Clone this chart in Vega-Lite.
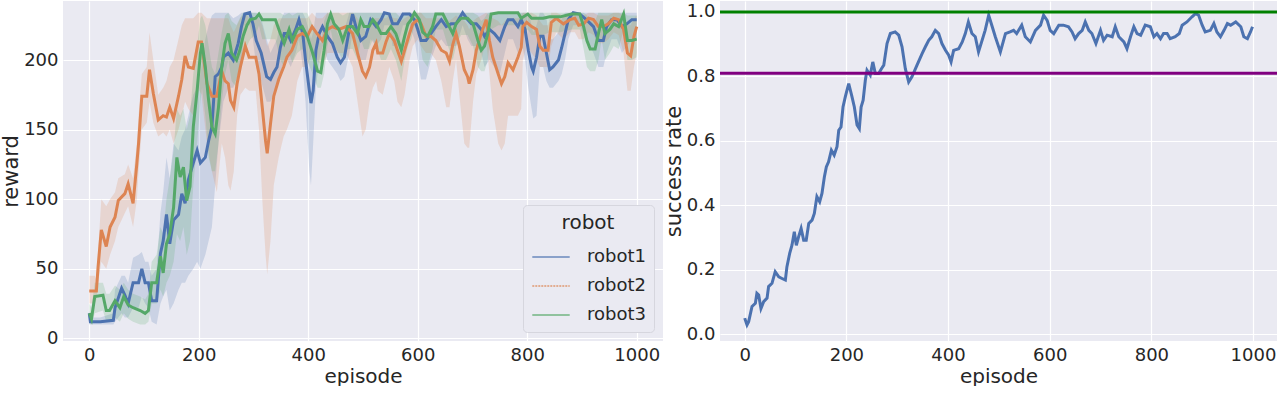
{
"$schema": "https://vega.github.io/schema/vega-lite/v6.json",
"padding": {"left": 0, "top": 1, "right": 5, "bottom": 0},
"spacing": 0,
"background": "white",
"resolve": {"scale": {"color": "independent"}, "legend": {"color": "independent"}},
"config": {
  "font": "DejaVu Sans",
  "view": {"fill": "#EAEAF2", "stroke": null},
  "axis": {"grid": true, "gridColor": "#FFFFFF", "gridWidth": 1.2, "domain": false, "ticks": false, "labelFontSize": 18, "titleFontSize": 20, "labelColor": "#262626", "titleColor": "#262626", "titleFontWeight": "normal", "labelPadding": 5, "titlePadding": 2, "labelFont": "DejaVu Sans", "titleFont": "DejaVu Sans"},
  "legend": {"labelFont": "DejaVu Sans", "titleFont": "DejaVu Sans"}
},
"datasets": {
"reward": [
{"robot":"robot1","ep":0,"r":18,"lo":10,"hi":20},
{"robot":"robot1","ep":2,"r":12,"lo":10,"hi":15},
{"robot":"robot1","ep":20,"r":12,"lo":10,"hi":15},
{"robot":"robot1","ep":44,"r":13,"lo":10,"hi":18},
{"robot":"robot1","ep":47,"r":22,"lo":12,"hi":35},
{"robot":"robot1","ep":59,"r":36,"lo":18,"hi":45},
{"robot":"robot1","ep":65,"r":31,"lo":15,"hi":45},
{"robot":"robot1","ep":71,"r":25,"lo":15,"hi":40},
{"robot":"robot1","ep":80,"r":40,"lo":22,"hi":58},
{"robot":"robot1","ep":90,"r":40,"lo":22,"hi":60},
{"robot":"robot1","ep":96,"r":50,"lo":30,"hi":62},
{"robot":"robot1","ep":102,"r":40,"lo":25,"hi":55},
{"robot":"robot1","ep":108,"r":40,"lo":22,"hi":55},
{"robot":"robot1","ep":114,"r":27,"lo":12,"hi":45},
{"robot":"robot1","ep":123,"r":27,"lo":10,"hi":50},
{"robot":"robot1","ep":130,"r":61,"lo":25,"hi":90},
{"robot":"robot1","ep":135,"r":70,"lo":30,"hi":105},
{"robot":"robot1","ep":141,"r":89,"lo":35,"hi":130},
{"robot":"robot1","ep":147,"r":68,"lo":20,"hi":115},
{"robot":"robot1","ep":154,"r":85,"lo":25,"hi":140},
{"robot":"robot1","ep":163,"r":89,"lo":35,"hi":135},
{"robot":"robot1","ep":169,"r":104,"lo":40,"hi":145},
{"robot":"robot1","ep":175,"r":97,"lo":40,"hi":150},
{"robot":"robot1","ep":181,"r":114,"lo":45,"hi":160},
{"robot":"robot1","ep":190,"r":126,"lo":50,"hi":175},
{"robot":"robot1","ep":197,"r":135,"lo":55,"hi":180},
{"robot":"robot1","ep":203,"r":126,"lo":50,"hi":190},
{"robot":"robot1","ep":212,"r":130,"lo":60,"hi":215},
{"robot":"robot1","ep":218,"r":142,"lo":70,"hi":225},
{"robot":"robot1","ep":224,"r":152,"lo":80,"hi":232},
{"robot":"robot1","ep":230,"r":188,"lo":110,"hi":234},
{"robot":"robot1","ep":236,"r":190,"lo":140,"hi":234},
{"robot":"robot1","ep":242,"r":195,"lo":160,"hi":234},
{"robot":"robot1","ep":245,"r":202,"lo":170,"hi":234},
{"robot":"robot1","ep":254,"r":205,"lo":180,"hi":234},
{"robot":"robot1","ep":263,"r":200,"lo":180,"hi":230},
{"robot":"robot1","ep":272,"r":212,"lo":190,"hi":232},
{"robot":"robot1","ep":278,"r":224,"lo":200,"hi":234},
{"robot":"robot1","ep":284,"r":233,"lo":225,"hi":234},
{"robot":"robot1","ep":293,"r":234,"lo":225,"hi":234},
{"robot":"robot1","ep":299,"r":226,"lo":215,"hi":234},
{"robot":"robot1","ep":305,"r":214,"lo":195,"hi":234},
{"robot":"robot1","ep":314,"r":205,"lo":185,"hi":230},
{"robot":"robot1","ep":324,"r":188,"lo":170,"hi":215},
{"robot":"robot1","ep":331,"r":186,"lo":170,"hi":205},
{"robot":"robot1","ep":337,"r":191,"lo":175,"hi":210},
{"robot":"robot1","ep":343,"r":195,"lo":180,"hi":215},
{"robot":"robot1","ep":349,"r":209,"lo":190,"hi":228},
{"robot":"robot1","ep":356,"r":219,"lo":200,"hi":234},
{"robot":"robot1","ep":362,"r":219,"lo":200,"hi":234},
{"robot":"robot1","ep":368,"r":214,"lo":195,"hi":234},
{"robot":"robot1","ep":377,"r":222,"lo":205,"hi":234},
{"robot":"robot1","ep":383,"r":229,"lo":215,"hi":234},
{"robot":"robot1","ep":390,"r":219,"lo":195,"hi":234},
{"robot":"robot1","ep":395,"r":200,"lo":170,"hi":230},
{"robot":"robot1","ep":402,"r":178,"lo":120,"hi":220},
{"robot":"robot1","ep":405,"r":169,"lo":110,"hi":215},
{"robot":"robot1","ep":409,"r":178,"lo":140,"hi":220},
{"robot":"robot1","ep":414,"r":207,"lo":180,"hi":234},
{"robot":"robot1","ep":420,"r":219,"lo":200,"hi":234},
{"robot":"robot1","ep":426,"r":224,"lo":210,"hi":234},
{"robot":"robot1","ep":435,"r":217,"lo":200,"hi":234},
{"robot":"robot1","ep":444,"r":212,"lo":195,"hi":230},
{"robot":"robot1","ep":453,"r":202,"lo":190,"hi":220},
{"robot":"robot1","ep":459,"r":198,"lo":185,"hi":215},
{"robot":"robot1","ep":466,"r":202,"lo":188,"hi":222},
{"robot":"robot1","ep":475,"r":222,"lo":205,"hi":234},
{"robot":"robot1","ep":481,"r":233,"lo":220,"hi":234},
{"robot":"robot1","ep":487,"r":224,"lo":210,"hi":234},
{"robot":"robot1","ep":496,"r":214,"lo":200,"hi":234},
{"robot":"robot1","ep":505,"r":217,"lo":200,"hi":234},
{"robot":"robot1","ep":514,"r":229,"lo":215,"hi":234},
{"robot":"robot1","ep":524,"r":224,"lo":210,"hi":234},
{"robot":"robot1","ep":533,"r":229,"lo":215,"hi":234},
{"robot":"robot1","ep":539,"r":234,"lo":225,"hi":234},
{"robot":"robot1","ep":548,"r":233,"lo":225,"hi":234},
{"robot":"robot1","ep":554,"r":226,"lo":210,"hi":234},
{"robot":"robot1","ep":563,"r":226,"lo":210,"hi":234},
{"robot":"robot1","ep":573,"r":233,"lo":225,"hi":234},
{"robot":"robot1","ep":585,"r":233,"lo":225,"hi":234},
{"robot":"robot1","ep":594,"r":229,"lo":215,"hi":234},
{"robot":"robot1","ep":600,"r":222,"lo":200,"hi":234},
{"robot":"robot1","ep":606,"r":214,"lo":186,"hi":234},
{"robot":"robot1","ep":615,"r":214,"lo":186,"hi":234},
{"robot":"robot1","ep":624,"r":219,"lo":200,"hi":234},
{"robot":"robot1","ep":633,"r":224,"lo":210,"hi":234},
{"robot":"robot1","ep":643,"r":229,"lo":215,"hi":234},
{"robot":"robot1","ep":652,"r":224,"lo":210,"hi":234},
{"robot":"robot1","ep":661,"r":226,"lo":210,"hi":234},
{"robot":"robot1","ep":670,"r":226,"lo":210,"hi":234},
{"robot":"robot1","ep":682,"r":234,"lo":225,"hi":234},
{"robot":"robot1","ep":691,"r":229,"lo":215,"hi":234},
{"robot":"robot1","ep":698,"r":226,"lo":210,"hi":234},
{"robot":"robot1","ep":707,"r":226,"lo":210,"hi":234},
{"robot":"robot1","ep":716,"r":222,"lo":205,"hi":234},
{"robot":"robot1","ep":722,"r":217,"lo":195,"hi":234},
{"robot":"robot1","ep":731,"r":222,"lo":200,"hi":234},
{"robot":"robot1","ep":740,"r":219,"lo":195,"hi":234},
{"robot":"robot1","ep":750,"r":214,"lo":190,"hi":234},
{"robot":"robot1","ep":759,"r":224,"lo":205,"hi":234},
{"robot":"robot1","ep":765,"r":229,"lo":215,"hi":234},
{"robot":"robot1","ep":774,"r":229,"lo":215,"hi":234},
{"robot":"robot1","ep":783,"r":224,"lo":205,"hi":234},
{"robot":"robot1","ep":789,"r":229,"lo":215,"hi":234},
{"robot":"robot1","ep":796,"r":222,"lo":200,"hi":234},
{"robot":"robot1","ep":802,"r":207,"lo":180,"hi":234},
{"robot":"robot1","ep":808,"r":195,"lo":165,"hi":225},
{"robot":"robot1","ep":811,"r":192,"lo":158,"hi":220},
{"robot":"robot1","ep":817,"r":202,"lo":160,"hi":225},
{"robot":"robot1","ep":823,"r":217,"lo":195,"hi":234},
{"robot":"robot1","ep":829,"r":217,"lo":195,"hi":234},
{"robot":"robot1","ep":835,"r":205,"lo":185,"hi":230},
{"robot":"robot1","ep":841,"r":193,"lo":180,"hi":215},
{"robot":"robot1","ep":847,"r":195,"lo":180,"hi":215},
{"robot":"robot1","ep":857,"r":200,"lo":185,"hi":220},
{"robot":"robot1","ep":863,"r":209,"lo":190,"hi":230},
{"robot":"robot1","ep":869,"r":219,"lo":200,"hi":234},
{"robot":"robot1","ep":875,"r":229,"lo":215,"hi":234},
{"robot":"robot1","ep":884,"r":234,"lo":225,"hi":234},
{"robot":"robot1","ep":896,"r":233,"lo":225,"hi":234},
{"robot":"robot1","ep":908,"r":229,"lo":215,"hi":234},
{"robot":"robot1","ep":921,"r":224,"lo":205,"hi":234},
{"robot":"robot1","ep":930,"r":214,"lo":195,"hi":234},
{"robot":"robot1","ep":939,"r":214,"lo":195,"hi":234},
{"robot":"robot1","ep":945,"r":224,"lo":205,"hi":234},
{"robot":"robot1","ep":954,"r":229,"lo":215,"hi":234},
{"robot":"robot1","ep":964,"r":229,"lo":215,"hi":234},
{"robot":"robot1","ep":973,"r":224,"lo":205,"hi":234},
{"robot":"robot1","ep":982,"r":226,"lo":210,"hi":234},
{"robot":"robot1","ep":991,"r":229,"lo":215,"hi":234},
{"robot":"robot1","ep":1000,"r":229,"lo":215,"hi":234},
{"robot":"robot2","ep":0,"r":34,"lo":25,"hi":45},
{"robot":"robot2","ep":10,"r":34,"lo":25,"hi":45},
{"robot":"robot2","ep":13,"r":34,"lo":28,"hi":42},
{"robot":"robot2","ep":16,"r":51,"lo":40,"hi":62},
{"robot":"robot2","ep":22,"r":78,"lo":55,"hi":100},
{"robot":"robot2","ep":31,"r":66,"lo":50,"hi":95},
{"robot":"robot2","ep":38,"r":80,"lo":60,"hi":100},
{"robot":"robot2","ep":47,"r":87,"lo":70,"hi":105},
{"robot":"robot2","ep":53,"r":99,"lo":80,"hi":115},
{"robot":"robot2","ep":65,"r":104,"lo":90,"hi":118},
{"robot":"robot2","ep":71,"r":111,"lo":95,"hi":125},
{"robot":"robot2","ep":80,"r":97,"lo":80,"hi":115},
{"robot":"robot2","ep":87,"r":126,"lo":100,"hi":140},
{"robot":"robot2","ep":90,"r":140,"lo":120,"hi":160},
{"robot":"robot2","ep":96,"r":174,"lo":150,"hi":190},
{"robot":"robot2","ep":105,"r":174,"lo":155,"hi":195},
{"robot":"robot2","ep":110,"r":193,"lo":170,"hi":220},
{"robot":"robot2","ep":117,"r":176,"lo":155,"hi":200},
{"robot":"robot2","ep":126,"r":157,"lo":145,"hi":175},
{"robot":"robot2","ep":135,"r":160,"lo":148,"hi":180},
{"robot":"robot2","ep":141,"r":159,"lo":145,"hi":185},
{"robot":"robot2","ep":147,"r":166,"lo":150,"hi":195},
{"robot":"robot2","ep":154,"r":158,"lo":140,"hi":200},
{"robot":"robot2","ep":163,"r":174,"lo":150,"hi":215},
{"robot":"robot2","ep":169,"r":186,"lo":160,"hi":225},
{"robot":"robot2","ep":175,"r":203,"lo":170,"hi":230},
{"robot":"robot2","ep":181,"r":195,"lo":165,"hi":230},
{"robot":"robot2","ep":190,"r":194,"lo":160,"hi":230},
{"robot":"robot2","ep":199,"r":213,"lo":180,"hi":234},
{"robot":"robot2","ep":205,"r":213,"lo":175,"hi":234},
{"robot":"robot2","ep":215,"r":183,"lo":140,"hi":230},
{"robot":"robot2","ep":224,"r":174,"lo":120,"hi":230},
{"robot":"robot2","ep":233,"r":174,"lo":105,"hi":230},
{"robot":"robot2","ep":242,"r":192,"lo":140,"hi":230},
{"robot":"robot2","ep":248,"r":185,"lo":130,"hi":230},
{"robot":"robot2","ep":254,"r":183,"lo":110,"hi":230},
{"robot":"robot2","ep":258,"r":171,"lo":106,"hi":225},
{"robot":"robot2","ep":264,"r":166,"lo":120,"hi":220},
{"robot":"robot2","ep":270,"r":183,"lo":160,"hi":225},
{"robot":"robot2","ep":276,"r":195,"lo":175,"hi":230},
{"robot":"robot2","ep":285,"r":210,"lo":180,"hi":234},
{"robot":"robot2","ep":292,"r":202,"lo":178,"hi":230},
{"robot":"robot2","ep":304,"r":202,"lo":178,"hi":230},
{"robot":"robot2","ep":310,"r":190,"lo":150,"hi":230},
{"robot":"robot2","ep":316,"r":166,"lo":100,"hi":225},
{"robot":"robot2","ep":322,"r":142,"lo":60,"hi":215},
{"robot":"robot2","ep":325,"r":133,"lo":46,"hi":210},
{"robot":"robot2","ep":331,"r":154,"lo":70,"hi":215},
{"robot":"robot2","ep":337,"r":174,"lo":110,"hi":225},
{"robot":"robot2","ep":346,"r":186,"lo":130,"hi":230},
{"robot":"robot2","ep":355,"r":195,"lo":145,"hi":230},
{"robot":"robot2","ep":361,"r":202,"lo":150,"hi":230},
{"robot":"robot2","ep":370,"r":207,"lo":160,"hi":230},
{"robot":"robot2","ep":380,"r":217,"lo":185,"hi":230},
{"robot":"robot2","ep":389,"r":219,"lo":195,"hi":230},
{"robot":"robot2","ep":398,"r":217,"lo":195,"hi":230},
{"robot":"robot2","ep":407,"r":224,"lo":205,"hi":234},
{"robot":"robot2","ep":416,"r":219,"lo":200,"hi":230},
{"robot":"robot2","ep":426,"r":214,"lo":195,"hi":230},
{"robot":"robot2","ep":435,"r":222,"lo":205,"hi":234},
{"robot":"robot2","ep":444,"r":224,"lo":205,"hi":234},
{"robot":"robot2","ep":456,"r":222,"lo":205,"hi":234},
{"robot":"robot2","ep":469,"r":224,"lo":205,"hi":234},
{"robot":"robot2","ep":481,"r":219,"lo":195,"hi":234},
{"robot":"robot2","ep":490,"r":205,"lo":170,"hi":230},
{"robot":"robot2","ep":499,"r":192,"lo":145,"hi":225},
{"robot":"robot2","ep":505,"r":188,"lo":150,"hi":220},
{"robot":"robot2","ep":512,"r":195,"lo":170,"hi":225},
{"robot":"robot2","ep":518,"r":207,"lo":180,"hi":230},
{"robot":"robot2","ep":524,"r":212,"lo":185,"hi":230},
{"robot":"robot2","ep":527,"r":205,"lo":178,"hi":230},
{"robot":"robot2","ep":536,"r":205,"lo":175,"hi":230},
{"robot":"robot2","ep":542,"r":213,"lo":185,"hi":230},
{"robot":"robot2","ep":548,"r":219,"lo":195,"hi":232},
{"robot":"robot2","ep":557,"r":214,"lo":185,"hi":230},
{"robot":"robot2","ep":563,"r":207,"lo":170,"hi":230},
{"robot":"robot2","ep":570,"r":199,"lo":166,"hi":228},
{"robot":"robot2","ep":576,"r":207,"lo":175,"hi":230},
{"robot":"robot2","ep":585,"r":219,"lo":200,"hi":232},
{"robot":"robot2","ep":591,"r":226,"lo":210,"hi":234},
{"robot":"robot2","ep":600,"r":229,"lo":215,"hi":234},
{"robot":"robot2","ep":606,"r":226,"lo":210,"hi":234},
{"robot":"robot2","ep":615,"r":217,"lo":205,"hi":230},
{"robot":"robot2","ep":624,"r":217,"lo":205,"hi":230},
{"robot":"robot2","ep":633,"r":214,"lo":200,"hi":230},
{"robot":"robot2","ep":643,"r":207,"lo":185,"hi":230},
{"robot":"robot2","ep":652,"r":205,"lo":166,"hi":230},
{"robot":"robot2","ep":658,"r":199,"lo":166,"hi":228},
{"robot":"robot2","ep":664,"r":211,"lo":185,"hi":230},
{"robot":"robot2","ep":670,"r":219,"lo":200,"hi":232},
{"robot":"robot2","ep":676,"r":210,"lo":175,"hi":230},
{"robot":"robot2","ep":685,"r":193,"lo":140,"hi":228},
{"robot":"robot2","ep":691,"r":188,"lo":137,"hi":225},
{"robot":"robot2","ep":694,"r":183,"lo":137,"hi":222},
{"robot":"robot2","ep":701,"r":193,"lo":170,"hi":228},
{"robot":"robot2","ep":707,"r":207,"lo":190,"hi":230},
{"robot":"robot2","ep":716,"r":219,"lo":200,"hi":232},
{"robot":"robot2","ep":725,"r":229,"lo":215,"hi":234},
{"robot":"robot2","ep":731,"r":214,"lo":190,"hi":232},
{"robot":"robot2","ep":737,"r":202,"lo":165,"hi":230},
{"robot":"robot2","ep":747,"r":190,"lo":140,"hi":228},
{"robot":"robot2","ep":753,"r":183,"lo":135,"hi":225},
{"robot":"robot2","ep":759,"r":188,"lo":140,"hi":228},
{"robot":"robot2","ep":765,"r":198,"lo":160,"hi":230},
{"robot":"robot2","ep":774,"r":193,"lo":160,"hi":230},
{"robot":"robot2","ep":783,"r":202,"lo":160,"hi":230},
{"robot":"robot2","ep":789,"r":209,"lo":165,"hi":232},
{"robot":"robot2","ep":792,"r":224,"lo":200,"hi":234},
{"robot":"robot2","ep":799,"r":227,"lo":210,"hi":234},
{"robot":"robot2","ep":808,"r":224,"lo":205,"hi":234},
{"robot":"robot2","ep":817,"r":222,"lo":200,"hi":232},
{"robot":"robot2","ep":823,"r":210,"lo":195,"hi":228},
{"robot":"robot2","ep":829,"r":207,"lo":195,"hi":225},
{"robot":"robot2","ep":838,"r":207,"lo":195,"hi":225},
{"robot":"robot2","ep":844,"r":227,"lo":210,"hi":234},
{"robot":"robot2","ep":853,"r":230,"lo":220,"hi":234},
{"robot":"robot2","ep":866,"r":226,"lo":215,"hi":232},
{"robot":"robot2","ep":878,"r":229,"lo":220,"hi":234},
{"robot":"robot2","ep":887,"r":230,"lo":220,"hi":234},
{"robot":"robot2","ep":894,"r":225,"lo":215,"hi":232},
{"robot":"robot2","ep":903,"r":226,"lo":215,"hi":232},
{"robot":"robot2","ep":912,"r":230,"lo":220,"hi":234},
{"robot":"robot2","ep":921,"r":229,"lo":218,"hi":234},
{"robot":"robot2","ep":930,"r":224,"lo":212,"hi":232},
{"robot":"robot2","ep":939,"r":224,"lo":212,"hi":232},
{"robot":"robot2","ep":948,"r":226,"lo":215,"hi":232},
{"robot":"robot2","ep":958,"r":230,"lo":220,"hi":234},
{"robot":"robot2","ep":967,"r":229,"lo":218,"hi":234},
{"robot":"robot2","ep":976,"r":222,"lo":205,"hi":232},
{"robot":"robot2","ep":983,"r":205,"lo":178,"hi":225},
{"robot":"robot2","ep":989,"r":203,"lo":178,"hi":225},
{"robot":"robot2","ep":995,"r":217,"lo":195,"hi":230},
{"robot":"robot2","ep":1000,"r":224,"lo":205,"hi":232},
{"robot":"robot3","ep":0,"r":18,"lo":12,"hi":25},
{"robot":"robot3","ep":4,"r":14,"lo":10,"hi":22},
{"robot":"robot3","ep":10,"r":30,"lo":18,"hi":40},
{"robot":"robot3","ep":25,"r":31,"lo":20,"hi":40},
{"robot":"robot3","ep":31,"r":20,"lo":12,"hi":32},
{"robot":"robot3","ep":37,"r":20,"lo":12,"hi":32},
{"robot":"robot3","ep":47,"r":27,"lo":15,"hi":38},
{"robot":"robot3","ep":56,"r":22,"lo":12,"hi":35},
{"robot":"robot3","ep":63,"r":30,"lo":18,"hi":40},
{"robot":"robot3","ep":71,"r":24,"lo":14,"hi":35},
{"robot":"robot3","ep":80,"r":22,"lo":12,"hi":32},
{"robot":"robot3","ep":93,"r":20,"lo":10,"hi":30},
{"robot":"robot3","ep":102,"r":18,"lo":10,"hi":28},
{"robot":"robot3","ep":108,"r":20,"lo":12,"hi":32},
{"robot":"robot3","ep":114,"r":40,"lo":25,"hi":55},
{"robot":"robot3","ep":123,"r":40,"lo":25,"hi":60},
{"robot":"robot3","ep":130,"r":59,"lo":35,"hi":80},
{"robot":"robot3","ep":135,"r":47,"lo":30,"hi":75},
{"robot":"robot3","ep":141,"r":68,"lo":40,"hi":100},
{"robot":"robot3","ep":147,"r":75,"lo":45,"hi":115},
{"robot":"robot3","ep":154,"r":94,"lo":55,"hi":135},
{"robot":"robot3","ep":160,"r":130,"lo":75,"hi":165},
{"robot":"robot3","ep":166,"r":116,"lo":70,"hi":160},
{"robot":"robot3","ep":172,"r":123,"lo":80,"hi":165},
{"robot":"robot3","ep":178,"r":99,"lo":60,"hi":150},
{"robot":"robot3","ep":184,"r":109,"lo":70,"hi":160},
{"robot":"robot3","ep":190,"r":152,"lo":110,"hi":190},
{"robot":"robot3","ep":197,"r":178,"lo":140,"hi":210},
{"robot":"robot3","ep":203,"r":205,"lo":170,"hi":230},
{"robot":"robot3","ep":206,"r":212,"lo":180,"hi":232},
{"robot":"robot3","ep":212,"r":195,"lo":160,"hi":225},
{"robot":"robot3","ep":218,"r":171,"lo":130,"hi":210},
{"robot":"robot3","ep":224,"r":152,"lo":120,"hi":195},
{"robot":"robot3","ep":230,"r":147,"lo":120,"hi":190},
{"robot":"robot3","ep":236,"r":166,"lo":140,"hi":205},
{"robot":"robot3","ep":242,"r":195,"lo":170,"hi":220},
{"robot":"robot3","ep":248,"r":212,"lo":190,"hi":232},
{"robot":"robot3","ep":254,"r":219,"lo":200,"hi":234},
{"robot":"robot3","ep":260,"r":205,"lo":185,"hi":228},
{"robot":"robot3","ep":269,"r":200,"lo":180,"hi":225},
{"robot":"robot3","ep":275,"r":207,"lo":190,"hi":230},
{"robot":"robot3","ep":281,"r":217,"lo":200,"hi":234},
{"robot":"robot3","ep":288,"r":225,"lo":210,"hi":234},
{"robot":"robot3","ep":294,"r":229,"lo":215,"hi":234},
{"robot":"robot3","ep":304,"r":230,"lo":218,"hi":234},
{"robot":"robot3","ep":310,"r":233,"lo":225,"hi":234},
{"robot":"robot3","ep":316,"r":229,"lo":215,"hi":234},
{"robot":"robot3","ep":340,"r":229,"lo":215,"hi":234},
{"robot":"robot3","ep":349,"r":219,"lo":200,"hi":234},
{"robot":"robot3","ep":356,"r":212,"lo":195,"hi":232},
{"robot":"robot3","ep":365,"r":222,"lo":205,"hi":234},
{"robot":"robot3","ep":371,"r":214,"lo":198,"hi":232},
{"robot":"robot3","ep":380,"r":222,"lo":205,"hi":234},
{"robot":"robot3","ep":389,"r":224,"lo":208,"hi":234},
{"robot":"robot3","ep":398,"r":217,"lo":200,"hi":234},
{"robot":"robot3","ep":408,"r":205,"lo":190,"hi":225},
{"robot":"robot3","ep":417,"r":192,"lo":180,"hi":215},
{"robot":"robot3","ep":423,"r":191,"lo":180,"hi":212},
{"robot":"robot3","ep":429,"r":207,"lo":190,"hi":228},
{"robot":"robot3","ep":435,"r":226,"lo":210,"hi":234},
{"robot":"robot3","ep":441,"r":233,"lo":222,"hi":234},
{"robot":"robot3","ep":447,"r":226,"lo":210,"hi":234},
{"robot":"robot3","ep":456,"r":222,"lo":205,"hi":234},
{"robot":"robot3","ep":463,"r":214,"lo":200,"hi":232},
{"robot":"robot3","ep":472,"r":224,"lo":208,"hi":234},
{"robot":"robot3","ep":481,"r":224,"lo":208,"hi":234},
{"robot":"robot3","ep":490,"r":219,"lo":200,"hi":234},
{"robot":"robot3","ep":496,"r":229,"lo":215,"hi":234},
{"robot":"robot3","ep":502,"r":224,"lo":208,"hi":234},
{"robot":"robot3","ep":511,"r":224,"lo":208,"hi":234},
{"robot":"robot3","ep":518,"r":229,"lo":215,"hi":234},
{"robot":"robot3","ep":524,"r":226,"lo":210,"hi":234},
{"robot":"robot3","ep":533,"r":219,"lo":200,"hi":234},
{"robot":"robot3","ep":542,"r":219,"lo":200,"hi":234},
{"robot":"robot3","ep":551,"r":224,"lo":208,"hi":234},
{"robot":"robot3","ep":560,"r":219,"lo":200,"hi":234},
{"robot":"robot3","ep":570,"r":207,"lo":185,"hi":230},
{"robot":"robot3","ep":576,"r":217,"lo":200,"hi":234},
{"robot":"robot3","ep":582,"r":226,"lo":210,"hi":234},
{"robot":"robot3","ep":588,"r":229,"lo":215,"hi":234},
{"robot":"robot3","ep":594,"r":234,"lo":225,"hi":234},
{"robot":"robot3","ep":603,"r":229,"lo":215,"hi":234},
{"robot":"robot3","ep":609,"r":220,"lo":200,"hi":234},
{"robot":"robot3","ep":618,"r":217,"lo":195,"hi":234},
{"robot":"robot3","ep":627,"r":224,"lo":208,"hi":234},
{"robot":"robot3","ep":633,"r":233,"lo":222,"hi":234},
{"robot":"robot3","ep":646,"r":233,"lo":222,"hi":234},
{"robot":"robot3","ep":655,"r":226,"lo":210,"hi":234},
{"robot":"robot3","ep":664,"r":219,"lo":200,"hi":234},
{"robot":"robot3","ep":670,"r":226,"lo":210,"hi":234},
{"robot":"robot3","ep":679,"r":230,"lo":218,"hi":234},
{"robot":"robot3","ep":691,"r":230,"lo":218,"hi":234},
{"robot":"robot3","ep":701,"r":226,"lo":210,"hi":234},
{"robot":"robot3","ep":710,"r":214,"lo":195,"hi":232},
{"robot":"robot3","ep":716,"r":207,"lo":192,"hi":228},
{"robot":"robot3","ep":722,"r":210,"lo":192,"hi":230},
{"robot":"robot3","ep":728,"r":219,"lo":200,"hi":234},
{"robot":"robot3","ep":734,"r":233,"lo":222,"hi":234},
{"robot":"robot3","ep":747,"r":234,"lo":225,"hi":234},
{"robot":"robot3","ep":771,"r":234,"lo":225,"hi":234},
{"robot":"robot3","ep":783,"r":234,"lo":225,"hi":234},
{"robot":"robot3","ep":789,"r":230,"lo":218,"hi":234},
{"robot":"robot3","ep":801,"r":233,"lo":222,"hi":234},
{"robot":"robot3","ep":808,"r":230,"lo":218,"hi":234},
{"robot":"robot3","ep":829,"r":230,"lo":218,"hi":234},
{"robot":"robot3","ep":841,"r":231,"lo":220,"hi":234},
{"robot":"robot3","ep":860,"r":231,"lo":220,"hi":234},
{"robot":"robot3","ep":881,"r":233,"lo":222,"hi":234},
{"robot":"robot3","ep":896,"r":233,"lo":222,"hi":234},
{"robot":"robot3","ep":903,"r":224,"lo":208,"hi":234},
{"robot":"robot3","ep":909,"r":214,"lo":195,"hi":232},
{"robot":"robot3","ep":915,"r":208,"lo":192,"hi":228},
{"robot":"robot3","ep":924,"r":208,"lo":192,"hi":228},
{"robot":"robot3","ep":930,"r":219,"lo":200,"hi":234},
{"robot":"robot3","ep":936,"r":229,"lo":215,"hi":234},
{"robot":"robot3","ep":942,"r":219,"lo":200,"hi":234},
{"robot":"robot3","ep":951,"r":222,"lo":205,"hi":234},
{"robot":"robot3","ep":958,"r":226,"lo":210,"hi":234},
{"robot":"robot3","ep":967,"r":224,"lo":208,"hi":234},
{"robot":"robot3","ep":976,"r":233,"lo":222,"hi":234},
{"robot":"robot3","ep":983,"r":214,"lo":200,"hi":232},
{"robot":"robot3","ep":991,"r":214,"lo":200,"hi":232},
{"robot":"robot3","ep":1000,"r":215,"lo":202,"hi":232}
],
"success": [
{"ep":0,"s":0.050},{"ep":4.5,"s":0.029},{"ep":7.8,"s":0.039},{"ep":14.4,"s":0.086},{"ep":21,"s":0.096},{"ep":24,"s":0.127},{"ep":27.5,"s":0.122},{"ep":32,"s":0.080},{"ep":37.3,"s":0.101},{"ep":44,"s":0.112},{"ep":47,"s":0.148},{"ep":53.7,"s":0.158},{"ep":60,"s":0.194},{"ep":67,"s":0.178},{"ep":73.4,"s":0.173},{"ep":80,"s":0.168},{"ep":83,"s":0.209},{"ep":88.5,"s":0.251},{"ep":93,"s":0.276},{"ep":97.6,"s":0.318},{"ep":101.6,"s":0.276},{"ep":106,"s":0.302},{"ep":111,"s":0.328},{"ep":116,"s":0.292},{"ep":121,"s":0.292},{"ep":126,"s":0.344},{"ep":132.5,"s":0.354},{"ep":137,"s":0.375},{"ep":142,"s":0.427},{"ep":147.5,"s":0.411},{"ep":152,"s":0.437},{"ep":156.7,"s":0.488},{"ep":160.6,"s":0.519},{"ep":165,"s":0.535},{"ep":170.5,"s":0.571},{"ep":176,"s":0.556},{"ep":181.6,"s":0.582},{"ep":185,"s":0.633},{"ep":189.5,"s":0.643},{"ep":193.4,"s":0.705},{"ep":198,"s":0.737},{"ep":204.6,"s":0.778},{"ep":211,"s":0.737},{"ep":215.7,"s":0.705},{"ep":221,"s":0.649},{"ep":225.5,"s":0.638},{"ep":229,"s":0.705},{"ep":233,"s":0.726},{"ep":237.3,"s":0.788},{"ep":240.6,"s":0.819},{"ep":247,"s":0.804},{"ep":252,"s":0.845},{"ep":257,"s":0.809},{"ep":263.6,"s":0.809},{"ep":269,"s":0.824},{"ep":273.6,"s":0.835},{"ep":280,"s":0.902},{"ep":286.5,"s":0.933},{"ep":296,"s":0.938},{"ep":303,"s":0.928},{"ep":309.5,"s":0.892},{"ep":316,"s":0.824},{"ep":322.6,"s":0.783},{"ep":329,"s":0.799},{"ep":336,"s":0.824},{"ep":339,"s":0.835},{"ep":349,"s":0.871},{"ep":355.5,"s":0.892},{"ep":362,"s":0.912},{"ep":368,"s":0.923},{"ep":375,"s":0.943},{"ep":381.6,"s":0.933},{"ep":388,"s":0.902},{"ep":395,"s":0.881},{"ep":401.3,"s":0.866},{"ep":406,"s":0.845},{"ep":411,"s":0.881},{"ep":421,"s":0.886},{"ep":428,"s":0.907},{"ep":434,"s":0.933},{"ep":440,"s":0.969},{"ep":447,"s":0.933},{"ep":453.6,"s":0.923},{"ep":460,"s":0.876},{"ep":467,"s":0.912},{"ep":473,"s":0.943},{"ep":480,"s":0.99},{"ep":487,"s":0.954},{"ep":493,"s":0.923},{"ep":503,"s":0.876},{"ep":513,"s":0.933},{"ep":522,"s":0.938},{"ep":529,"s":0.943},{"ep":535,"s":0.933},{"ep":545,"s":0.959},{"ep":552,"s":0.923},{"ep":562,"s":0.907},{"ep":572,"s":0.943},{"ep":582,"s":0.959},{"ep":588,"s":0.99},{"ep":595,"s":0.974},{"ep":601,"s":0.943},{"ep":608,"s":0.933},{"ep":618,"s":0.959},{"ep":627,"s":0.959},{"ep":637,"s":0.954},{"ep":644,"s":0.938},{"ep":650,"s":0.917},{"ep":657,"s":0.933},{"ep":664,"s":0.943},{"ep":670,"s":0.969},{"ep":677,"s":0.943},{"ep":683,"s":0.933},{"ep":691,"s":0.902},{"ep":700,"s":0.943},{"ep":706,"s":0.912},{"ep":713,"s":0.928},{"ep":723,"s":0.923},{"ep":729,"s":0.954},{"ep":736,"s":0.923},{"ep":746,"s":0.907},{"ep":752,"s":0.886},{"ep":759,"s":0.923},{"ep":765.6,"s":0.954},{"ep":772,"s":0.933},{"ep":779,"s":0.928},{"ep":788,"s":0.959},{"ep":798,"s":0.954},{"ep":805,"s":0.923},{"ep":811,"s":0.933},{"ep":818,"s":0.917},{"ep":824,"s":0.933},{"ep":831,"s":0.933},{"ep":837,"s":0.917},{"ep":847,"s":0.923},{"ep":855,"s":0.933},{"ep":860.6,"s":0.959},{"ep":870,"s":0.969},{"ep":880,"s":0.985},{"ep":887,"s":0.995},{"ep":893,"s":0.99},{"ep":900,"s":0.959},{"ep":906,"s":0.938},{"ep":916,"s":0.943},{"ep":923,"s":0.964},{"ep":929,"s":0.938},{"ep":936,"s":0.923},{"ep":943,"s":0.943},{"ep":949.6,"s":0.964},{"ep":956,"s":0.959},{"ep":966,"s":0.969},{"ep":976,"s":0.954},{"ep":982,"s":0.923},{"ep":989,"s":0.917},{"ep":995,"s":0.938},{"ep":999,"s":0.954}
],
"hlines": [{"y":1.0,"c":"green"},{"y":0.81,"c":"purple"}]
},
"hconcat": [
{
  "width": 600, "height": 340,
  "layer": [
    {"data": {"name": "reward"},
     "mark": {"type": "area", "opacity": 0.2},
     "encoding": {
       "x": {"field": "ep", "type": "quantitative", "scale": {"domain": [-48, 1048], "nice": false, "zero": false}, "axis": {"values": [0,200,400,600,800,1000], "format": "d", "title": "episode", "labelFontSize": 18, "titleFontSize": 20}},
       "y": {"field": "lo", "type": "quantitative", "scale": {"domain": [-1.9, 242.4], "nice": false, "zero": false}, "axis": {"values": [0,50,100,150,200], "format": "d", "title": "reward", "labelFontSize": 18, "titleFontSize": 21}},
       "y2": {"field": "hi"},
       "color": {"field": "robot", "type": "nominal", "scale": {"domain": ["robot1","robot2","robot3"], "range": ["#4C72B0","#DD8452","#55A868"]}},
       "detail": {"field": "robot"}
     }},
    {"data": {"name": "reward"},
     "mark": {"type": "line", "strokeWidth": 3},
     "encoding": {
       "x": {"field": "ep", "type": "quantitative"},
       "y": {"field": "r", "type": "quantitative"},
       "color": {"field": "robot", "type": "nominal", "scale": {"domain": ["robot1","robot2","robot3"], "range": ["#4C72B0","#DD8452","#55A868"]},
         "legend": {"orient": "bottom-right", "offset": 9, "title": "robot", "titleFontSize": 20, "titleFontWeight": "normal", "titleColor": "#262626", "labelColor": "#262626", "labelFontSize": 18, "titleAnchor": "middle", "symbolType": "stroke", "symbolStrokeWidth": 2, "symbolSize": 1400, "symbolOpacity": 0.6, "padding": 8, "fillColor": "#EAEAF2", "strokeColor": "#D6D6DE", "cornerRadius": 4, "labelOffset": 16, "titlePadding": 4, "rowPadding": 0,
           "encode": {"symbols": {"update": {"strokeDash": {"signal": "datum.value === 'robot2' ? [2, 1] : [1, 0]"}}}}}}
     }}
  ]
},
{
  "width": 557, "height": 340,
  "layer": [
    {"data": {"name": "success"},
     "mark": {"type": "line", "strokeWidth": 3, "color": "#4C72B0"},
     "encoding": {
       "x": {"field": "ep", "type": "quantitative", "scale": {"domain": [-48.6, 1047.2], "nice": false, "zero": false}, "axis": {"values": [0,200,400,600,800,1000], "format": "d", "title": "episode", "labelFontSize": 18, "titleFontSize": 20}},
       "y": {"field": "s", "type": "quantitative", "scale": {"domain": [-0.021, 1.034], "nice": false, "zero": false}, "axis": {"values": [0,0.2,0.4,0.6,0.8,1.0], "format": ".1f", "title": "success rate", "labelFontSize": 18, "titleFontSize": 21}}
     }},
    {"data": {"name": "hlines"},
     "mark": {"type": "rule", "strokeWidth": 3},
     "encoding": {
       "y": {"field": "y", "type": "quantitative"},
       "color": {"field": "c", "type": "nominal", "scale": {"domain": ["green","purple"], "range": ["#008000","#800080"]}, "legend": null}
     }}
  ]
}
]
}
